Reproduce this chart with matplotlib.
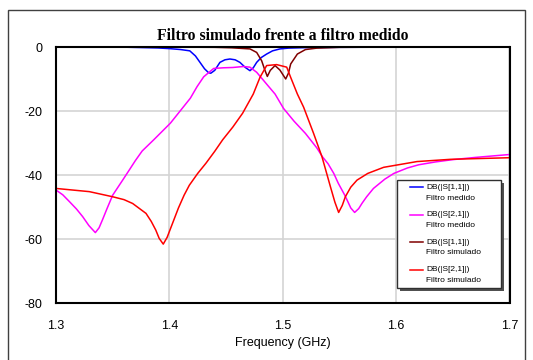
import matplotlib
matplotlib.use("Agg")
import matplotlib.pyplot as plt
import matplotlib.patches as patches
from matplotlib.lines import Line2D

# Measured S11
f_s11_med = [1.30, 1.36, 1.39, 1.40, 1.41, 1.418, 1.423, 1.427, 1.431, 1.4345, 1.4365, 1.440,
             1.4446, 1.449, 1.4534, 1.458, 1.4622, 1.467, 1.4711, 1.474, 1.477, 1.481, 1.4858,
             1.491, 1.4975, 1.505, 1.52, 1.55, 1.60, 1.70]
db_s11_med = [0, -0.05, -0.3, -0.5, -0.8, -1.2, -2.8, -4.8, -6.8, -8.0, -8.2, -7.3,
              -4.8, -4.0, -3.75, -4.0, -4.8, -6.4, -7.4, -6.5, -4.8, -3.3, -2.2,
              -1.2, -0.6, -0.35, -0.2, -0.1, -0.05, 0]

# Measured S21
f_s21_med = [1.300, 1.306, 1.3118, 1.318, 1.3235, 1.329, 1.3347, 1.338, 1.341, 1.345, 1.350,
             1.3588, 1.3647, 1.370, 1.376, 1.3862, 1.4009, 1.4097, 1.4185, 1.4244, 1.4303,
             1.4347, 1.4391, 1.4476, 1.456, 1.4652, 1.471, 1.477, 1.4858, 1.4932, 1.5007,
             1.510, 1.520, 1.530, 1.535, 1.540, 1.545, 1.549, 1.555, 1.560, 1.5634, 1.567,
             1.570, 1.574, 1.580, 1.590, 1.598, 1.610, 1.620, 1.635, 1.650, 1.670, 1.690, 1.700]
db_s21_med = [-44.7, -46.2, -48.3, -50.6, -53, -55.8, -58, -56.5, -54, -50.5, -46.3,
              -41.6, -38.4, -35.5, -32.5, -29, -23.8, -19.9, -16, -12.4, -9.3,
              -8.0, -6.7, -6.5, -6.4, -6.1, -6.3, -7.9, -11.6, -14.7, -19.2,
              -23.2, -27, -31.5, -34.3, -36.5, -39.5, -42.6, -46.5, -50.3, -51.7, -50.5,
              -48.8, -46.8, -44.2, -41.3, -39.5, -37.8, -36.8, -35.9, -35.2, -34.5, -33.9, -33.6]

# Simulated S11
f_s11_sim = [1.30, 1.40, 1.44, 1.455, 1.4711, 1.477, 1.4814, 1.4842, 1.4864, 1.489, 1.4932,
             1.4975, 1.5026, 1.505, 1.507, 1.5129, 1.520, 1.530, 1.55, 1.60, 1.70]
db_s11_sim = [0, -0.03, -0.1, -0.25, -0.6, -1.7, -4.3, -7.2, -9.2, -7.3, -5.8,
              -7.2, -10.0, -8.2, -5.3, -2.2, -0.8, -0.35, -0.1, -0.03, 0]

# Simulated S21
f_s21_sim = [1.300, 1.3294, 1.350, 1.360, 1.3676, 1.3794, 1.384, 1.388, 1.391, 1.3946, 1.398,
             1.4029, 1.408, 1.413, 1.4176, 1.425, 1.4323, 1.440, 1.447, 1.456, 1.4646, 1.474,
             1.4799, 1.4858, 1.4946, 1.5035, 1.507, 1.5129, 1.5184, 1.5272, 1.5346,
             1.542, 1.546, 1.5493, 1.5525, 1.5552, 1.560, 1.5655, 1.575, 1.589, 1.6184,
             1.648, 1.700]
db_s21_sim = [-44.2, -45.2, -46.8, -47.7, -48.9, -52, -54.5, -57.2, -59.8, -61.6, -59.5,
              -55, -50.3, -46.3, -43.2, -39.5, -36.3, -32.6, -29, -25, -20.7, -14.7,
              -9.5, -5.8, -5.5, -6.3, -9.5, -14.7, -18.8, -27, -34.3,
              -43.6, -48.5, -51.7, -49.5, -46.8, -43.8, -41.6, -39.5, -37.6, -35.8,
              -35.1, -34.6]

x_ticks = [1.3, 1.4, 1.5, 1.6, 1.7]
y_ticks = [0, -20, -40, -60, -80]

series = [
    (f_s11_med, db_s11_med, "#0000ff", "DB(|S[1,1]|)", "Filtro medido"),
    (f_s21_med, db_s21_med, "#ff00ff", "DB(|S[2,1]|)", "Filtro medido"),
    (f_s11_sim, db_s11_sim, "#800000", "DB(|S[1,1]|)", "Filtro simulado"),
    (f_s21_sim, db_s21_sim, "#ff0000", "DB(|S[2,1]|)", "Filtro simulado"),
]

W, H = 533, 360
fig = plt.figure(figsize=(W / 100, H / 100), dpi=100)


def px(x, y):
    # pixel position (from top-left) to figure fraction
    return x / W, 1 - y / H


# outer frame
fig.patches.append(patches.Rectangle(px(8, 380), (525 - 8) / W, 370 / H, transform=fig.transFigure,
                                     fill=False, edgecolor="#404040", linewidth=1.0))

ax = fig.add_axes([56 / W, 1 - 303 / H, 453.5 / W, 256 / H])

for f, db, col, l1, l2 in series:
    ax.plot(f, db, color=col, linewidth=1.1)

ax.set_xlim(1.3, 1.7)
ax.set_ylim(-80, 0)
ax.set_xticks(x_ticks)
ax.set_yticks(y_ticks)
ax.set_xticklabels([str(v) for v in x_ticks])
ax.set_yticklabels([str(v) for v in y_ticks])
ax.tick_params(length=0, labelsize=9, pad=10)
ax.tick_params(axis="x", pad=12)
for lab in ax.get_xticklabels() + ax.get_yticklabels():
    lab.set_family("Liberation Sans")
ax.grid(True, color="#d4d4d4", linewidth=1.2)
ax.set_axisbelow(True)
for s in ax.spines.values():
    s.set_linewidth(1.5)
    s.set_color("black")

ax.set_xlabel("Frequency (GHz)", fontsize=9, family="Liberation Sans", labelpad=4)
ax.set_title("Filtro simulado frente a filtro medido", fontsize=11.3, fontweight="bold",
             family="Liberation Serif", pad=5)

# legend box with shadow
lx0, ly0, lx1, ly1 = 397, 180, 501, 288
fig.patches.append(patches.Rectangle(px(lx0 + 3, ly1 + 3), (lx1 - lx0) / W, (ly1 - ly0) / H,
                                     transform=fig.transFigure, facecolor="#505050",
                                     edgecolor="none", zorder=5))
fig.patches.append(patches.Rectangle(px(lx0, ly1), (lx1 - lx0) / W, (ly1 - ly0) / H,
                                     transform=fig.transFigure, facecolor="white",
                                     edgecolor="#303030", linewidth=1.0, zorder=6))
for i, (f, db, col, l1, l2) in enumerate(series):
    yy = 187 + i * 27.5
    fig.add_artist(Line2D([410 / W, 423 / W], [1 - yy / H, 1 - yy / H], color=col,
                          linewidth=1.1, transform=fig.transFigure, zorder=7))
    fig.text(426 / W, 1 - yy / H, l1, fontsize=6, family="Liberation Sans",
             va="center", ha="left", zorder=7)
    fig.text(426 / W, 1 - (yy + 11) / H, l2, fontsize=6, family="Liberation Sans",
             va="center", ha="left", zorder=7)

fig.savefig("out.png", dpi=100)
